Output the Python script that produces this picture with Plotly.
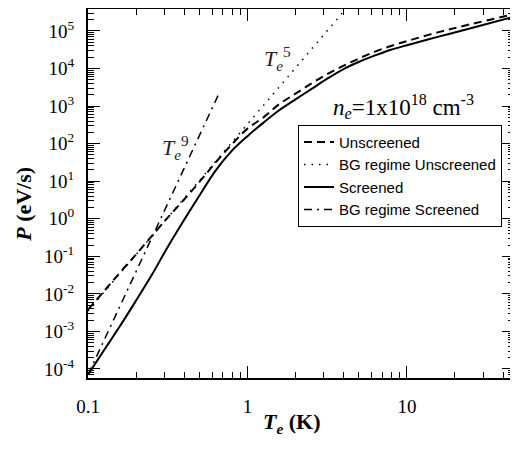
import plotly.graph_objects as go

# ---- data ----
T_curve = [0.1, 0.126, 0.158, 0.2, 0.251, 0.316, 0.398, 0.5, 0.631, 0.794, 1.0,
           1.26, 1.58, 2.0, 2.51, 3.16, 3.98, 5.01, 6.31, 7.94, 10.0, 15.8, 25.1, 47.0]
logP_unscreened = [-2.42, -1.93, -1.44, -0.95, -0.46, 0.03, 0.50, 0.98, 1.50, 1.97, 2.40,
                   2.70, 3.05, 3.33, 3.60, 3.85, 4.07, 4.27, 4.45, 4.60, 4.73, 4.97, 5.18, 5.45]
logP_screened = [-4.15, -3.50, -2.87, -2.18, -1.50, -0.75, -0.05, 0.62, 1.28, 1.80, 2.20,
                 2.56, 2.89, 3.18, 3.45, 3.73, 3.98, 4.18, 4.35, 4.50, 4.62, 4.85, 5.07, 5.38]
P_unscreened = [10 ** v for v in logP_unscreened]
P_screened = [10 ** v for v in logP_screened]

T_bg_unscreened = [0.1, 4.1]
P_bg_unscreened = [3.5e-3, 3.7e5]
T_bg_screened = [0.1, 0.67]
P_bg_screened = [7.0e-5, 2.4e3]

x_tickvals = [0.1, 1, 10]
x_ticktext = ["0.1", "1", "10"]
y_exponents = [-4, -3, -2, -1, 0, 1, 2, 3, 4, 5]

fig = go.Figure()
fig.add_trace(go.Scatter(x=T_curve, y=P_unscreened, mode="lines", name="Unscreened",
                         line=dict(color="black", width=2, dash="8px,5px", shape="spline")))
fig.add_trace(go.Scatter(x=T_bg_unscreened, y=P_bg_unscreened, mode="lines", name="BG regime Unscreened",
                         line=dict(color="black", width=1.5, dash="1.5px,6px")))
fig.add_trace(go.Scatter(x=T_curve, y=P_screened, mode="lines", name="Screened",
                         line=dict(color="black", width=2, shape="spline")))
fig.add_trace(go.Scatter(x=T_bg_screened, y=P_bg_screened, mode="lines", name="BG regime Screened",
                         line=dict(color="black", width=1.5, dash="8px,5px,2px,5px")))

serif = "Liberation Serif"
sans = "Liberation Sans"

minor_x = [m * 10 ** d for d in (-1, 0, 1) for m in range(2, 10)]
minor_y = [m * 10.0 ** d for d in range(-5, 6) for m in range(2, 10)]

fig.update_xaxes(type="log", range=[-1, 1.671], tickmode="array", automargin=False,
                 tickvals=x_tickvals, ticktext=x_ticktext,
                 ticks="inside", ticklen=12, tickwidth=1, tickcolor="black",
                 minor=dict(tickmode="array", tickvals=minor_x, ticks="inside", ticklen=6,
                            tickwidth=1, tickcolor="black", showgrid=False),
                 showline=True, linewidth=2, linecolor="black", mirror="allticks",
                 showgrid=False, zeroline=False, ticklabelstandoff=10,
                 tickfont=dict(family=serif, size=19, color="black"))
fig.update_yaxes(type="log", range=[-4.24, 5.585], tickmode="array", automargin=False,
                 tickvals=[10.0 ** e for e in y_exponents],
                 ticktext=["10<sup>%d</sup>" % e for e in y_exponents],
                 ticks="inside", ticklen=12, tickwidth=1, tickcolor="black",
                 minor=dict(tickmode="array", tickvals=minor_y, ticks="inside", ticklen=6,
                            tickwidth=1, tickcolor="black", showgrid=False),
                 showline=True, linewidth=2, linecolor="black", mirror="allticks",
                 showgrid=False, zeroline=False, ticklabelstandoff=8,
                 tickfont=dict(family=serif, size=19, color="black"))

fig.add_annotation(text="<b><i>T</i><sub><i>e</i></sub> (K)</b>", xref="paper", yref="paper",
                   x=0.48, y=-0.079, xanchor="center", yanchor="top", showarrow=False,
                   font=dict(family=serif, size=22, color="black"))
fig.add_annotation(text="<b><i>P</i> (eV/s)</b>", xref="paper", yref="paper",
                   x=-0.152, y=0.47, xanchor="center", yanchor="middle", textangle=-90,
                   showarrow=False, font=dict(family=serif, size=22, color="black"))
fig.add_annotation(text="<i>T</i><sub><i>e</i></sub><sup>9</sup>", xref="paper", yref="paper",
                   x=0.168, y=0.625, xanchor="left", yanchor="middle", showarrow=False,
                   font=dict(family=serif, size=22, color="#222"))
fig.add_annotation(text="<i>T</i><sub><i>e</i></sub><sup>5</sup>", xref="paper", yref="paper",
                   x=0.408, y=0.865, xanchor="left", yanchor="middle", showarrow=False,
                   font=dict(family=serif, size=22, color="#222"))
fig.add_annotation(text="<i>n</i><sub><i>e</i></sub>=1x10<sup>18</sup> cm<sup>-3</sup>",
                   xref="paper", yref="paper", x=0.57, y=0.735, xanchor="left", yanchor="middle",
                   showarrow=False, font=dict(family=serif, size=23, color="black"))

fig.update_layout(width=510, height=446, margin=dict(l=80, r=4, t=1, b=76),
                  paper_bgcolor="white", plot_bgcolor="white",
                  showlegend=True,
                  legend=dict(x=0.493, y=0.686, xanchor="left", yanchor="top",
                              bgcolor="white", bordercolor="black", borderwidth=1,
                              font=dict(family=sans, size=15, color="black"),
                              itemwidth=30, tracegroupgap=0))

fig.write_html("out.html")
